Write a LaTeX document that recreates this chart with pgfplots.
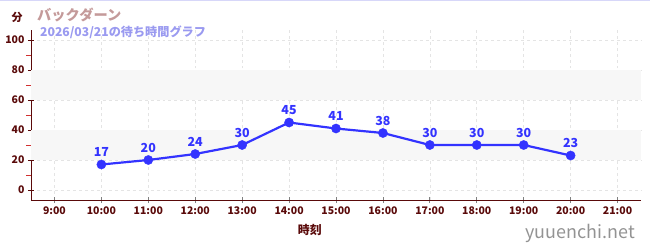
\documentclass[border=0pt]{standalone}
\usepackage{pgfplots}
\pgfplotsset{compat=1.18}
\usepackage{fontspec}
\setmainfont{Noto Sans CJK JP}
\definecolor{axred}{HTML}{5A0A0A}
\definecolor{minred}{HTML}{D03030}
\definecolor{lineblue}{HTML}{3333FF}
\definecolor{titlec}{HTML}{C49A9A}
\definecolor{subc}{HTML}{9A9AF0}
\definecolor{gridc}{HTML}{E4E4E4}
\definecolor{bandc}{HTML}{F7F7F7}
\begin{document}
\begin{tikzpicture}[x=1bp,y=1bp]
\begin{axis}[
  at={(0,0)}, anchor=south west,
  scale only axis, width=610bp, height=170bp,
  xmin=8.5, xmax=21.5, ymin=-6.67, ymax=106.67,
  xtick={9,...,21},
  xticklabels={9:00,10:00,11:00,12:00,13:00,14:00,15:00,16:00,17:00,18:00,19:00,20:00,21:00},
  ytick={0,20,...,100},
  minor ytick={10,30,...,90},
  axis x line*=bottom, axis y line*=left,
  axis line style={axred, line width=0.9pt},
  tick align=center,
  major tick length=6bp, minor tick length=6bp,
  every major tick/.style={axred, line width=0.8pt},
  every minor tick/.style={minred, line width=0.8pt, xshift=-1.5bp},
  xtick style={gray, line width=0.8pt},
  grid=major,
  major grid style={gridc, dashed, line width=0.6pt},
  ticklabel style={font=\fontsize{10.5}{11}\selectfont\bfseries, text=axred},
  /pgf/number format/assume math mode=true,
  xlabel={\bfseries 時刻}, xlabel style={font=\fontsize{12}{13}\selectfont, text=axred, at={(axis description cs:0.457,0)}, anchor=center, yshift=-30bp},
  clip=false,
]
\addplot[draw=none, fill=bandc, forget plot] coordinates {(8.5,20) (21.5,20) (21.5,40) (8.5,40)} -- cycle;
\addplot[draw=none, fill=bandc, forget plot] coordinates {(8.5,60) (21.5,60) (21.5,80) (8.5,80)} -- cycle;
\addplot[lineblue, line width=2.2pt, mark=*, mark size=4.6bp, mark options={solid, fill=lineblue, draw=lineblue, line width=0.4pt},
  nodes near coords, every node near coord/.append style={font=\fontsize{12.5}{13}\selectfont\bfseries, text=lineblue, yshift=4bp}]
 coordinates {(10,17) (11,20) (12,24) (13,30) (14,45) (15,41) (16,38) (17,30) (18,30) (19,30) (20,23)};
\end{axis}
\useasboundingbox (-31,-50) rectangle (619,200);
\draw[subc!40, line width=0.8pt] (-31,199.6) -- (619,199.6);
\node[anchor=center, text=axred, font=\fontsize{11}{12}\selectfont\bfseries] at (-14,183) {分};
\node[anchor=west, text=titlec, font=\fontsize{14.3}{16}\selectfont\bfseries, inner sep=0] at (6,185.5) {バックダーン};
\node[anchor=west, text=subc, font=\fontsize{12.2}{13}\selectfont\bfseries, inner sep=0] at (9,168) {2026/03/21の待ち時間グラフ};
\node[anchor=east, text=gray!85, font=\fontsize{18}{19}\selectfont, inner sep=0] at (604,-33) {yuuenchi.net};
\end{tikzpicture}
\end{document}
